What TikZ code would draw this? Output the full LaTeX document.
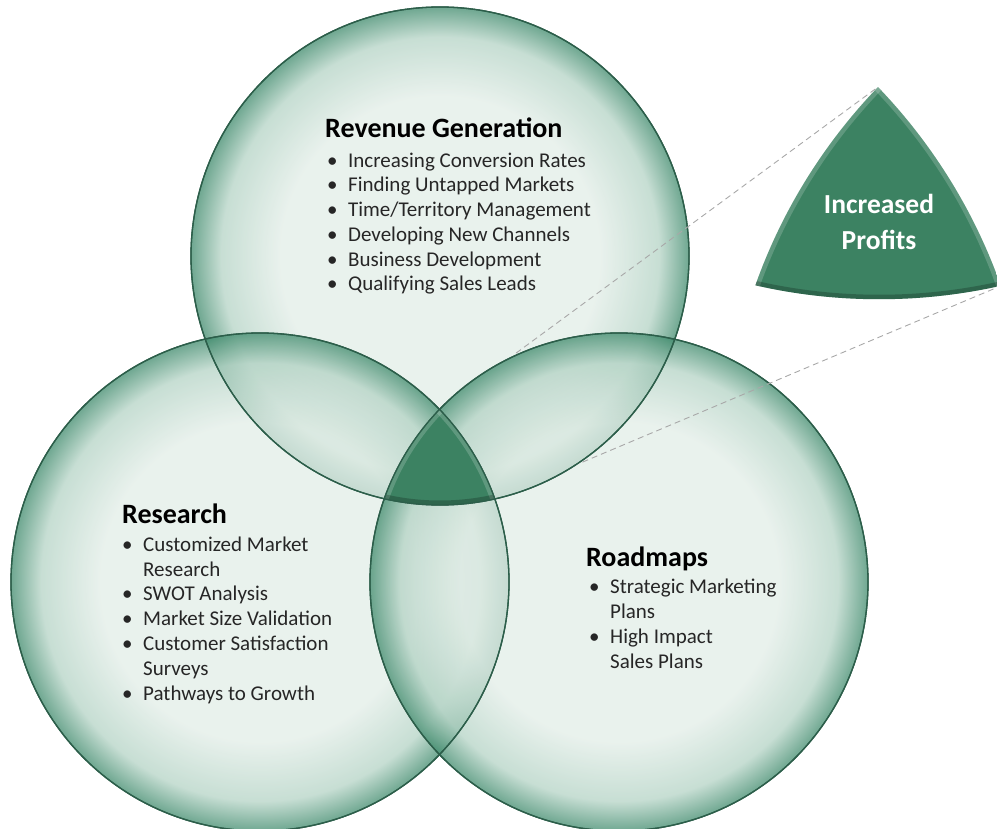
\documentclass[tikz,border=0pt]{standalone}
\usepackage{fontspec}
\setmainfont{Carlito}
\definecolor{bubin}{HTML}{E2EDE7}
\definecolor{bubmid}{HTML}{B4D3C5}
\definecolor{bubrim}{HTML}{3F8A6C}
\definecolor{ringline}{HTML}{2C5E4A}
\definecolor{gemgreen}{HTML}{3C8262}
\definecolor{guidegray}{HTML}{A8A8A8}
\definecolor{bodytext}{HTML}{262626}
\pgfdeclareradialshading{bubbleshade}{\pgfpoint{0bp}{0bp}}{color(0bp)=(bubin); color(16bp)=(bubin); color(22bp)=(bubmid); color(25bp)=(bubrim); color(50bp)=(bubrim)}
\newcommand{\bul}{\makebox[21pt][l]{•}}
\newcommand{\listgap}{\hspace*{21pt}}
\begin{document}
\begin{tikzpicture}[x=1pt,y=-1pt]
\tikzset{bubble/.style={circle,minimum size=498pt,inner sep=0pt,shade,shading=bubbleshade,fill opacity=0.75},
  ringedge/.style={draw=ringline,line width=1.3pt},
  gem/.style={fill=gemgreen},
  bevellight/.style={draw=white,line width=9pt,draw opacity=0.18},
  beveldark/.style={draw=black,line width=9pt,draw opacity=0.22},
  guide/.style={draw=guidegray,line width=0.9pt,dash pattern=on 6pt off 4pt,shorten <=95pt},
  headtext/.style={inner sep=0pt,font=\fontsize{28}{33}\selectfont\bfseries,text=black},
  listtext/.style={inner sep=0pt,align=left,font=\fontsize{21}{24.8}\selectfont,text=bodytext},
  profittext/.style={inner sep=0pt,align=center,font=\fontsize{27.5}{36}\selectfont\bfseries,text=white}}
\useasboundingbox (0,0) rectangle (997,829);
\node [bubble] (revc) at (440,256) {};
\node [bubble] (resc) at (260,582) {};
\node [bubble] (roadc) at (619,582) {};
\draw [ringedge] (revc.center) circle (249);
\draw [ringedge] (resc.center) circle (249);
\draw [ringedge] (roadc.center) circle (249);
\begin{scope}
\clip (revc.center) circle (249);
\clip (resc.center) circle (249);
\clip (roadc.center) circle (249);
\fill [gem] (roadc.center) circle (249);
\draw [bevellight] (roadc.center) circle (249);
\draw [bevellight] (resc.center) circle (249);
\draw [beveldark] (revc.center) circle (249);
\end{scope}
\draw [ringedge] (revc.center) circle (249);
\draw [ringedge] (resc.center) circle (249);
\draw [ringedge] (roadc.center) circle (249);
\begin{scope}[shift={(878,87)},scale=2.22,shift={(-439.5,-409.4)}]
\clip (440,256) circle (249);
\clip (260,582) circle (249);
\clip (619,582) circle (249);
\fill [gem] (619,582) circle (249);
\draw [bevellight] (619,582) circle (249);
\draw [bevellight] (260,582) circle (249);
\draw [beveldark] (440,256) circle (249);
\end{scope}
\coordinate (cgtop) at (439.5,409.4);
\coordinate (cgright) at (495,499);
\coordinate (pgtop) at (878,87);
\coordinate (pgright) at (1000.5,286);
\draw [guide] (cgtop) -- (pgtop);
\draw [guide] (cgright) -- (pgright);
\node [profittext] (profits) at (879,222) {Increased\\Profits};
\node [headtext,anchor=base west] (revhead) at (325,138) {Revenue Generation};
\node [listtext,anchor=base west] (revlist) at (327,291) {\bul Increasing Conversion Rates\\
  \bul Finding Untapped Markets\\
  \bul Time/Territory Management\\
  \bul Developing New Channels\\
  \bul Business Development\\
  \bul Qualifying Sales Leads};
\node [headtext,anchor=base west] (reshead) at (122,523) {Research};
\node [listtext,anchor=base west] (reslist) at (122,700) {\bul Customized Market\\
  \listgap Research\\
  \bul SWOT Analysis\\
  \bul Market Size Validation\\
  \bul Customer Satisfaction\\
  \listgap Surveys\\
  \bul Pathways to Growth};
\node [headtext,anchor=base west] (roadhead) at (586,566) {Roadmaps};
\node [listtext,anchor=base west] (roadlist) at (589,668) {\bul Strategic Marketing\\
  \listgap Plans\\
  \bul High Impact\\
  \listgap Sales Plans};
\end{tikzpicture}
\end{document}
